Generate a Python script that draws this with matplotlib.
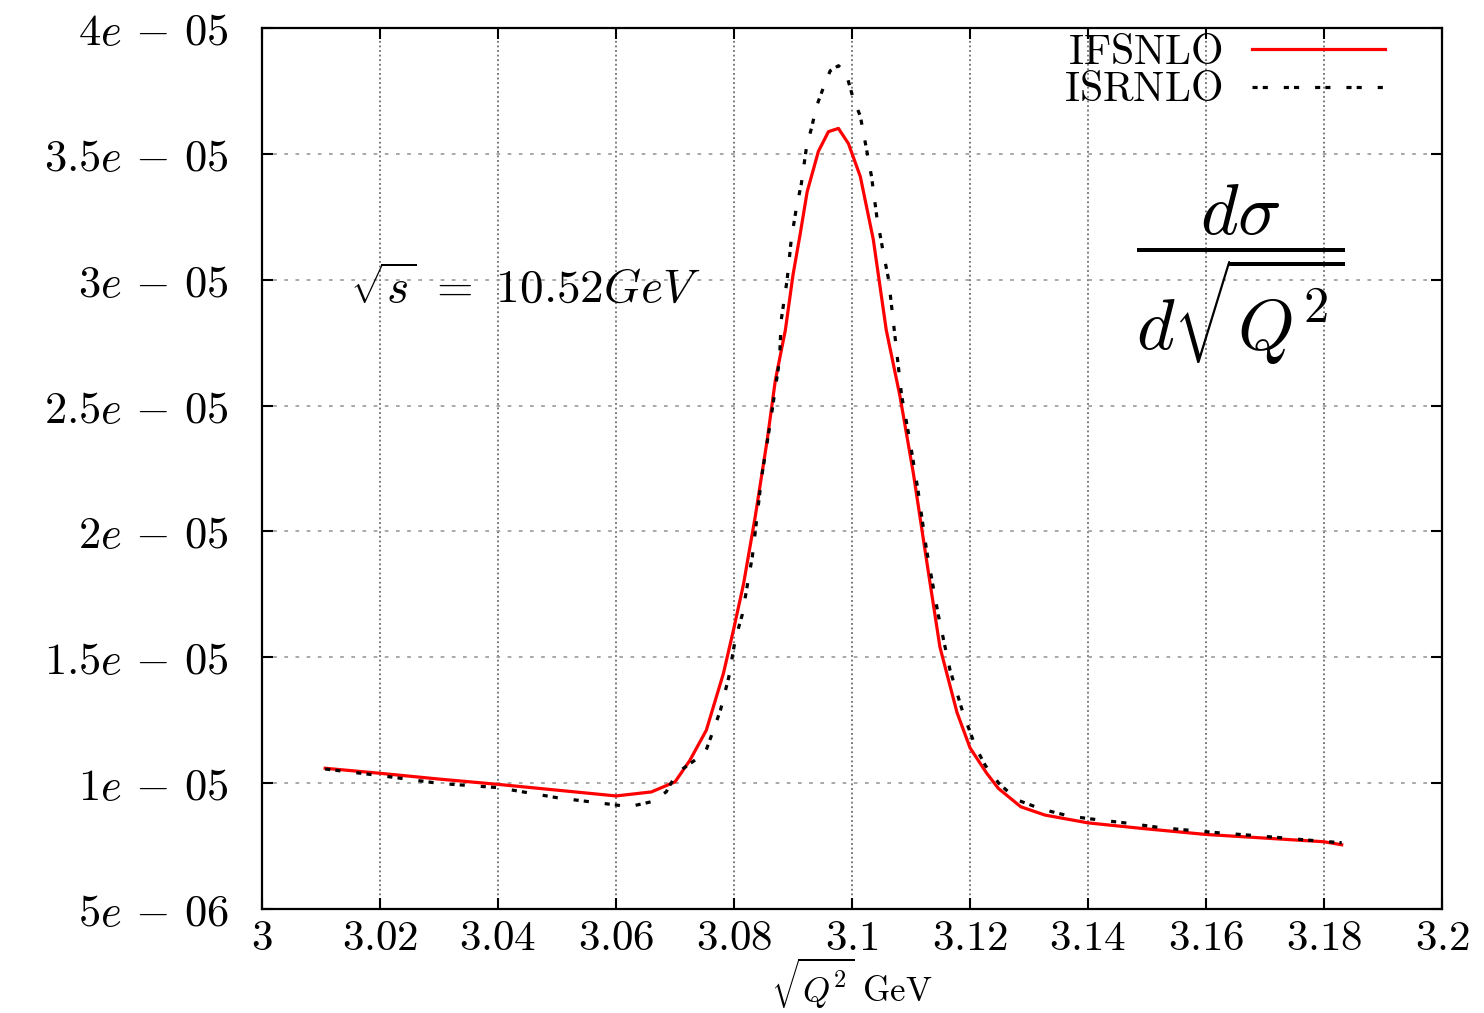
import numpy as np
import matplotlib
matplotlib.use("Agg")
import matplotlib.pyplot as plt

plt.rcParams['mathtext.fontset'] = 'cm'
plt.rcParams['font.family'] = 'serif'

# IFSNLO (czerwona, ciagla)
ifs_x = [3.0107, 3.02, 3.03, 3.04, 3.05, 3.06, 3.066, 3.07, 3.0725, 3.0753,
         3.0782, 3.0799, 3.0816, 3.0836, 3.0856, 3.087, 3.0887, 3.090, 3.0912,
         3.0924, 3.0943, 3.0960, 3.0977, 3.0994, 3.1014, 3.1036, 3.1058, 3.1081,
         3.1104, 3.1126, 3.1149, 3.1178, 3.12, 3.1228, 3.1248, 3.1286, 3.1327,
         3.14, 3.1491, 3.16, 3.18, 3.183]
ifs_y = [1.059e-5, 1.039e-5, 1.016e-5, 9.95e-6, 9.72e-6, 9.49e-6, 9.65e-6,
         1.005e-5, 1.09e-5, 1.21e-5, 1.436e-5, 1.608e-5, 1.79e-5, 2.06e-5,
         2.36e-5, 2.6e-5, 2.8e-5, 3.02e-5, 3.18e-5, 3.35e-5, 3.51e-5, 3.588e-5,
         3.601e-5, 3.54e-5, 3.41e-5, 3.16e-5, 2.8e-5, 2.54e-5, 2.23e-5, 1.89e-5,
         1.54e-5, 1.28e-5, 1.14e-5, 1.04e-5, 9.79e-6, 9.06e-6, 8.73e-6, 8.42e-6,
         8.2e-6, 7.96e-6, 7.67e-6, 7.55e-6]

# ISRNLO (czarna, przerywana)
isr_x = [3.0107, 3.02, 3.03, 3.04, 3.05, 3.06, 3.0622, 3.066, 3.0685, 3.0703,
         3.0751, 3.0765, 3.0777, 3.0791, 3.0802, 3.0814, 3.0831, 3.0847, 3.0862,
         3.0877, 3.088, 3.089, 3.0897, 3.0906, 3.0914, 3.0923, 3.0931, 3.094,
         3.0951, 3.0963, 3.0977, 3.099, 3.1002, 3.1014, 3.1022, 3.1033, 3.1042,
         3.1052, 3.1062, 3.1073, 3.1084, 3.1098, 3.1112, 3.1126, 3.1146, 3.1166,
         3.1188, 3.121, 3.1226, 3.1249, 3.128, 3.1321, 3.1368, 3.1421, 3.147,
         3.152, 3.157, 3.1619, 3.1669, 3.1722, 3.1771, 3.183]
isr_y = [1.056e-5, 1.03e-5, 9.99e-6, 9.82e-6, 9.42e-6, 9.13e-6, 9.06e-6,
         9.26e-6, 9.65e-6, 1.04e-5, 1.12e-5, 1.21e-5, 1.29e-5, 1.42e-5, 1.57e-5,
         1.67e-5, 1.9e-5, 2.22e-5, 2.44e-5, 2.68e-5, 2.84e-5, 3.0e-5, 3.16e-5,
         3.29e-5, 3.38e-5, 3.53e-5, 3.60e-5, 3.69e-5, 3.76e-5, 3.83e-5, 3.85e-5,
         3.82e-5, 3.72e-5, 3.65e-5, 3.55e-5, 3.41e-5, 3.25e-5, 3.12e-5, 3.0e-5,
         2.77e-5, 2.54e-5, 2.36e-5, 2.16e-5, 1.93e-5, 1.67e-5, 1.45e-5, 1.28e-5,
         1.14e-5, 1.07e-5, 9.99e-6, 9.33e-6, 8.97e-6, 8.69e-6, 8.53e-6, 8.4e-6,
         8.24e-6, 8.13e-6, 8.03e-6, 7.94e-6, 7.84e-6, 7.74e-6, 7.63e-6]

x_ticks = [3.0, 3.02, 3.04, 3.06, 3.08, 3.1, 3.12, 3.14, 3.16, 3.18, 3.2]
x_labels = ['3', '3.02', '3.04', '3.06', '3.08', '3.1', '3.12', '3.14', '3.16', '3.18', '3.2']
y_ticks = [5e-6, 1e-5, 1.5e-5, 2e-5, 2.5e-5, 3e-5, 3.5e-5, 4e-5]
y_mant = ['5', '1', '1.5', '2', '2.5', '3', '3.5', '4']
y_exp = ['06', '05', '05', '05', '05', '05', '05', '05']

fig = plt.figure(figsize=(14.84, 10.13), dpi=100)
ax = fig.add_axes([0.1766, 0.1027, 0.7951, 0.8697])

ax.plot(ifs_x, ifs_y, color='#ff0000', lw=2.3, label=r'$\mathrm{IFSNLO}$')
ax.plot(isr_x, isr_y, color='black', lw=2.3, dashes=(1.6, 1.6, 1.6, 5.0),
        label=r'$\mathrm{ISRNLO}$')

ax.set_xlim(3.0, 3.2)
ax.set_ylim(5e-6, 4e-5)
ax.set_xticks(x_ticks)
ax.set_xticklabels(['$' + s + '$' for s in x_labels], fontsize=31)
ax.set_yticks(y_ticks)
ax.set_yticklabels([r'$%se\,-\,%s$' % (m, e) for m, e in zip(y_mant, y_exp)],
                   fontsize=32)

ax.tick_params(direction='in', length=8, width=1.5, top=True, right=True)
ax.tick_params(axis='x', pad=6)
ax.tick_params(axis='y', pad=24)
for sp in ax.spines.values():
    sp.set_linewidth(1.6)

ax.xaxis.grid(True, color='#555555', lw=1.1, linestyle=(0, (1.2, 1.8)))
ax.yaxis.grid(True, color='#999999', lw=1.2, linestyle=(0, (2.2, 4.5)))
ax.set_axisbelow(True)

ax.set_xlabel(r'$\sqrt{Q^2}\ \mathrm{GeV}$', fontsize=25)
ax.xaxis.set_label_coords(0.5, -0.053)

ax.text(3.0149, 2.96e-5, r'$\sqrt{s}\ =\ 10.52GeV$', fontsize=34, va='center', ha='left')
ax.text(3.1658, 3.02e-5, r'$\dfrac{d\sigma}{d\sqrt{Q^2}}$', fontsize=52,
        va='center', ha='center')

leg = ax.legend(loc='upper right', frameon=False, markerfirst=False,
                fontsize=30, handlelength=3.2, handletextpad=0.7,
                labelspacing=-0.1, borderaxespad=0.0,
                bbox_to_anchor=(0.966, 1.016))

fig.savefig('out.png', dpi=100)
